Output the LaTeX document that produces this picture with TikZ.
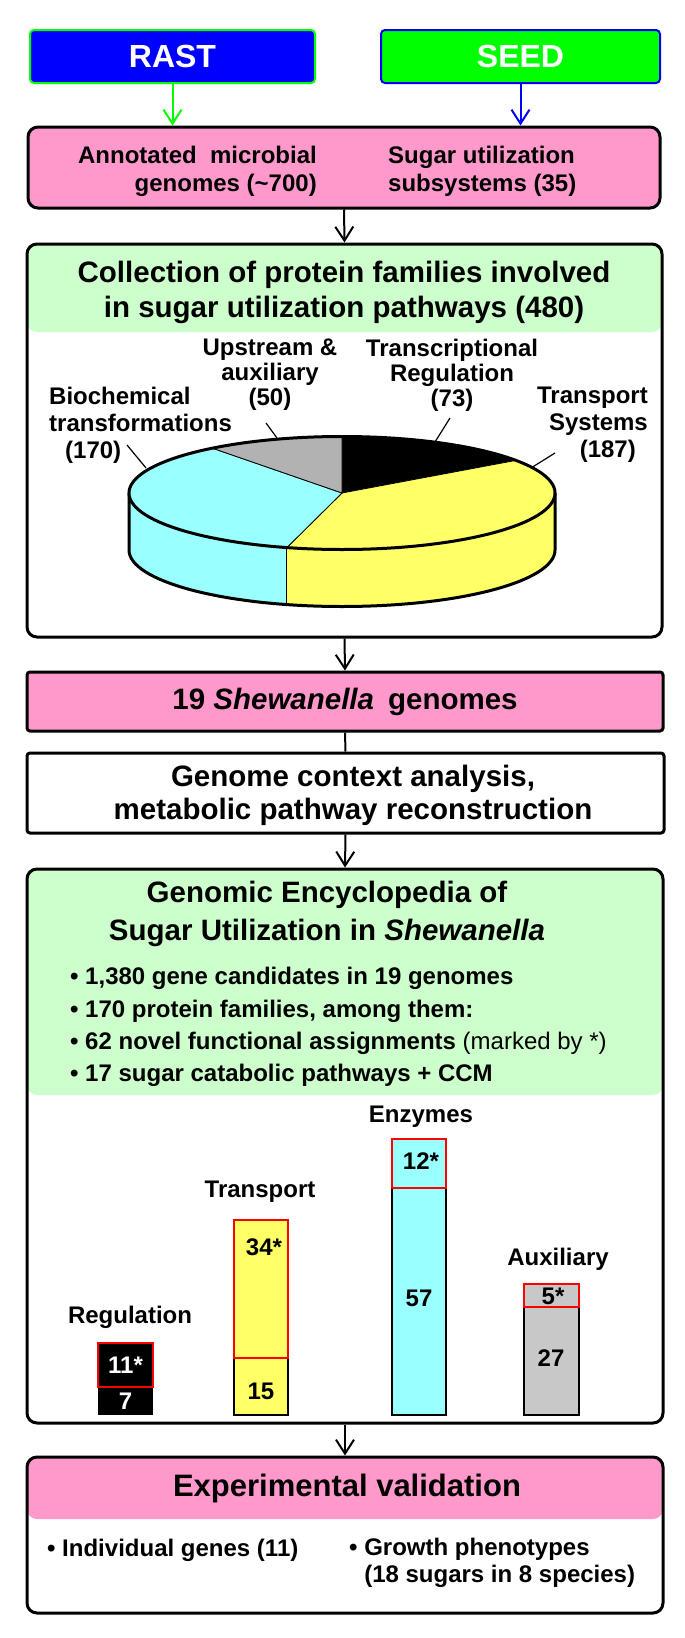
\documentclass[tikz,border=0pt]{standalone}
\usepackage{fontspec}
\setmainfont{Liberation Sans}
\usetikzlibrary{arrows.meta}
\definecolor{pinkbox}{RGB}{255,153,204}
\definecolor{hdrgreen}{RGB}{204,255,204}
\definecolor{piecyan}{RGB}{153,255,255}
\definecolor{pieyellow}{RGB}{255,255,102}
\definecolor{piegray}{RGB}{178,178,178}
\definecolor{bargray}{RGB}{200,200,200}
\definecolor{rastblue}{RGB}{0,0,255}
\definecolor{seedgreen}{RGB}{0,255,0}
\newcommand\fsz[2]{\fontsize{#1}{#2}\selectfont\bfseries}
\tikzset{
  box/.style={draw=black, line width=3pt, rounded corners=10pt, inner sep=0pt},
  hdr/.style 2 args={path picture={\fill[#1] (path picture bounding box.north west) rectangle ([yshift=-#2]path picture bounding box.north east);}},
  topbox/.style={line width=2pt, rounded corners=4pt, minimum width=#1, minimum height=53pt, text=white, font=\fsz{32}{36}},
  txt/.style={inner sep=0pt, font=\fsz{24}{27}},
  arr/.style={line width=2pt, -{Straight Barb[length=14pt,width=18pt,line width=2pt]}},
  plain/.style={line width=2pt},
  leader/.style={line width=1.2pt},
  redbox/.style={draw=red, line width=1.6pt},
  barnum/.style={inner sep=0pt, font=\fsz{24}{27}}
}
\begin{document}
\begin{tikzpicture}[x=1pt, y=-1pt]
\useasboundingbox (0,0) rectangle (685,1638);
\fill[white] (0,0) rectangle (685,1638);

% top sources
\node[topbox=285pt, fill=rastblue, draw=seedgreen] (rast) at (172.5,56.5) {RAST};
\node[topbox=279pt, fill=seedgreen, draw=rastblue] (seed) at (520.5,56.5) {SEED};

% box 1
\node[box, fill=pinkbox, minimum width=632pt, minimum height=81pt] (annot) at (344,167.5) {};
\node[txt, font=\fsz{24}{28}, anchor=east, align=right] (annotL) at (317,171) {Annotated\ \ microbial\\genomes (\textasciitilde700)};
\node[txt, font=\fsz{24}{28}, anchor=west, align=left] (annotR) at (388,171) {Sugar utilization\\subsystems (35)};

\draw[arr, seedgreen] (rast.south) -- (rast.south |- annot.north);
\draw[arr, rastblue] (seed.south) -- (seed.south |- annot.north);

% box 2
\node[box, fill=white, hdr={hdrgreen}{88pt}, minimum width=635pt, minimum height=393pt] (coll) at (344.5,440.5) {};
\node[inner sep=0pt, font=\fsz{29.5}{35}, align=center] (colltitle) at (344,292) {Collection of protein families involved\\in sugar utilization pathways (480)};

% pie
\begin{scope}[shift={(342,493)}, yscale=-1]
  \fill[piecyan] (-213,0) arc[start angle=180, end angle=255, x radius=213, y radius=56.5] -- ++(0,-57) arc[start angle=255, end angle=180, x radius=213, y radius=56.5] -- cycle;
  \fill[pieyellow] (255:213 and 56.5) arc[start angle=255, end angle=360, x radius=213, y radius=56.5] -- ++(0,-57) arc[start angle=360, end angle=255, x radius=213, y radius=56.5] -- cycle;
  \draw[line width=0.8pt] (255:213 and 56.5) -- ++(0,-57);
  \draw[line width=3pt] (-213,0) -- (-213,-57) arc[start angle=180, end angle=360, x radius=213, y radius=56.5] -- (213,0);
  \filldraw[fill=black, draw=black, line width=0.8pt] (0,0) -- (90:213 and 56.5) arc[start angle=90, end angle=35.25, x radius=213, y radius=56.5] -- cycle;
  \filldraw[fill=pieyellow, draw=black, line width=0.8pt] (0,0) -- (35.25:213 and 56.5) arc[start angle=35.25, end angle=-105, x radius=213, y radius=56.5] -- cycle;
  \filldraw[fill=piecyan, draw=black, line width=0.8pt] (0,0) -- (-105:213 and 56.5) arc[start angle=-105, end angle=-232.5, x radius=213, y radius=56.5] -- cycle;
  \filldraw[fill=piegray, draw=black, line width=0.8pt] (0,0) -- (127.5:213 and 56.5) arc[start angle=127.5, end angle=90, x radius=213, y radius=56.5] -- cycle;
  \draw[line width=3pt] (0,0) ellipse [x radius=213, y radius=56.5];
\end{scope}

\node[txt, anchor=west, align=left] (bio) at (49,425) {Biochemical\\transformations\\\hspace*{16pt}(170)};
\node[txt, font=\fsz{24}{25}, align=center] (ups) at (270,375) {Upstream \&\\auxiliary\\(50)};
\node[txt, font=\fsz{24}{25}, align=center] (trc) at (452,375) {Transcriptional\\Regulation\\(73)};
\node[txt, anchor=east, align=right] (tsp) at (648,425) {Transport\\Systems\\(187)\hspace*{12pt}};
\coordinate (bioA) at (127,445); \coordinate (bioB) at (146,468);
\coordinate (upsA) at (266,423); \coordinate (upsB) at (277,438);
\coordinate (trcA) at (450,418); \coordinate (trcB) at (435,442);
\coordinate (tspA) at (555,453); \coordinate (tspB) at (531,468);
\draw[leader] (bioA) -- (bioB);
\draw[leader] (upsA) -- (upsB);
\draw[leader] (trcA) -- (trcB);
\draw[leader] (tspA) -- (tspB);

% box 3 and 4
\node[box, rounded corners=3pt, fill=pinkbox, minimum width=636pt, minimum height=59pt, font=\fsz{29.5}{33}] (shew) at (345,701.5) {19 \textit{Shewanella}\hspace{14pt}genomes};
\node[box, rounded corners=3pt, fill=white, minimum width=637pt, minimum height=80pt, font=\fsz{29.5}{33}, align=center] (ctx) at (345.5,793) {};
\node[inner sep=0pt, font=\fsz{29.5}{33}, align=center] (ctxT) at (353,795) {Genome context analysis,\\metabolic pathway reconstruction};

% box 5
\node[box, fill=white, hdr={hdrgreen}{226pt}, minimum width=636pt, minimum height=554pt] (ency) at (345,1146) {};
\node[inner sep=0pt, font=\fsz{29.5}{38}, align=center] (encyT) at (327,914) {Genomic Encyclopedia of\\Sugar Utilization in \textit{Shewanella}};
\node[inner sep=0pt, font=\fsz{24}{32.3}, anchor=west, align=left] (encyB) at (70,1027) {• 1,380 gene candidates in 19 genomes\\• 170 protein families, among them:\\• 62 novel functional assignments {\mdseries (marked by *)}\\• 17 sugar catabolic pathways + CCM};

% bars
\fill[black] (98,1343) rectangle (153,1415);
\draw[redbox] (98,1343) rectangle (153,1387);
\filldraw[fill=pieyellow, draw=black, line width=1.2pt] (234,1220) rectangle (288,1415);
\draw[redbox] (234,1220) rectangle (288,1358);
\filldraw[fill=piecyan, draw=black, line width=1.2pt] (392,1139) rectangle (446,1415);
\draw[redbox] (392,1139) rectangle (446,1188);
\filldraw[fill=bargray, draw=black, line width=1.2pt] (524,1284) rectangle (579,1415);
\draw[redbox] (524,1284) rectangle (579,1307);

\node[barnum, text=white] (r11) at (125.5,1365) {11*};
\node[barnum, text=white] (r7) at (125.5,1401) {7};
\node[barnum] (t34) at (264,1247) {34*};
\node[barnum] (t15) at (261,1391) {15};
\node[barnum] (e12) at (421,1161) {12*};
\node[barnum] (e57) at (419,1298) {57};
\node[barnum] (a5) at (553,1296) {5*};
\node[barnum] (a27) at (551,1358) {27};

\node[txt] (lreg) at (130,1317) {Regulation};
\node[txt] (ltra) at (260,1192) {Transport};
\node[txt] (lenz) at (421,1117) {Enzymes};
\node[txt] (laux) at (558,1259) {Auxiliary};

% box 6
\node[box, fill=white, hdr={pinkbox}{62pt}, minimum width=636pt, minimum height=156pt] (valid) at (345,1535) {};
\node[inner sep=0pt, font=\fsz{31}{35}] (validT) at (347,1488) {Experimental validation};
\node[txt, anchor=west] (validA) at (47,1550) {• Individual genes (11)};
\node[txt, anchor=west, align=left] (validB) at (349,1563) {• Growth phenotypes\\\phantom{• }(18 sugars in 8 species)};

% connectors
\draw[arr] (annot.south) -- (coll.north);
\draw[arr] (coll.south) -- (shew.north);
\draw[plain] (shew.south) -- (ctx.north);
\draw[arr] (ctx.south) -- (ency.north);
\draw[arr] (ency.south) -- (valid.north);
\end{tikzpicture}
\end{document}
